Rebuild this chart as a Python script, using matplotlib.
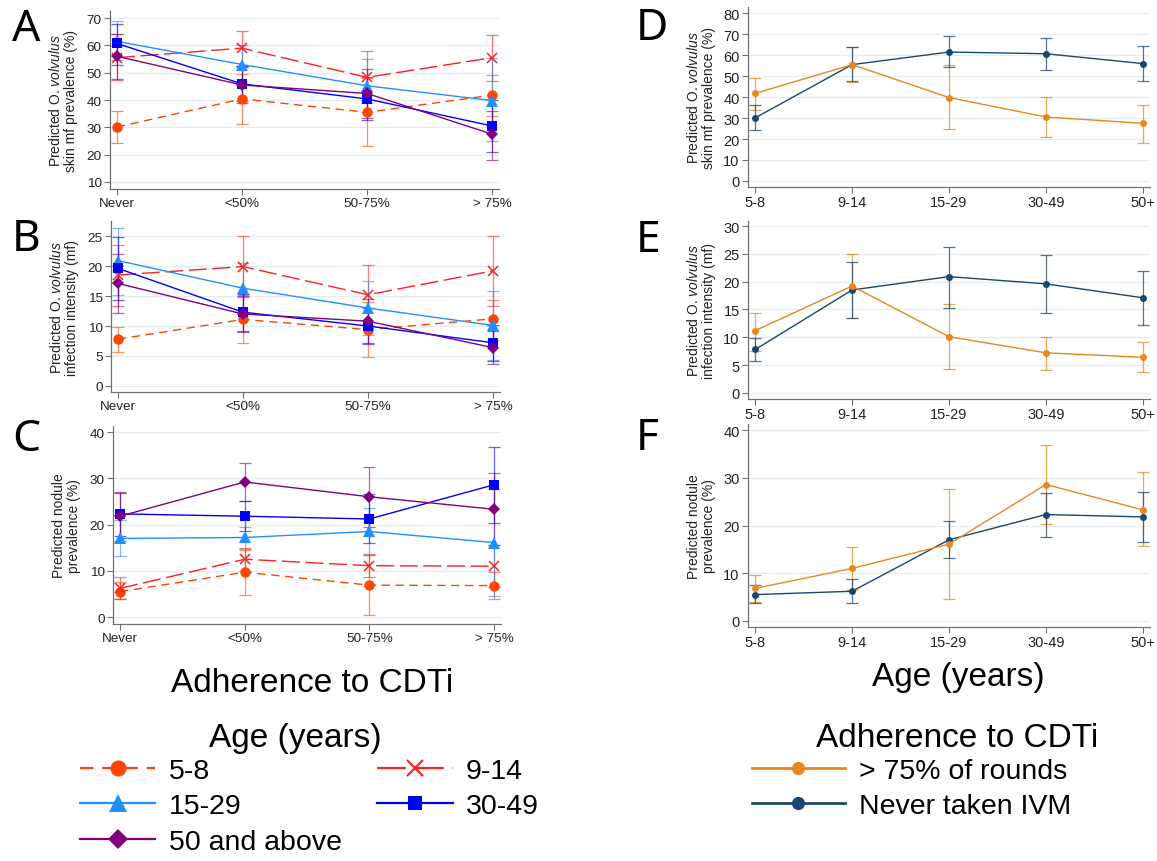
import numpy as np
import matplotlib.pyplot as plt
from matplotlib.lines import Line2D

plt.rcParams['font.family'] = ['Liberation Sans', 'DejaVu Sans']
plt.rcParams['mathtext.fontset'] = 'custom'
plt.rcParams['mathtext.rm'] = 'Liberation Sans'
plt.rcParams['mathtext.it'] = 'Liberation Sans:italic'

W, H = 1157, 862

adherence = ['Never', '<50%', '50-75%', '> 75%']
age_groups = ['5-8', '9-14', '15-29', '30-49', '50+']
age_legend = ['5-8', '9-14', '15-29', '30-49', '50 and above']
adh_legend = ['> 75% of rounds', 'Never taken IVM']

# rows = age group, cols = adherence (Never, <50%, 50-75%, >75%)
mf_prev = [[30.1, 40.4, 35.5, 41.8],
           [55.5, 59.0, 48.3, 55.5],
           [61.5, 53.0, 45.2, 39.8],
           [60.7, 45.9, 40.4, 30.5],
           [56.0, 45.5, 42.4, 27.5]]
mf_prev_lo = [[24.1, 31.1, 23.3, 34.0],
              [47.5, 52.5, 39.0, 47.0],
              [54.5, 46.0, 35.5, 25.0],
              [53.0, 39.5, 32.5, 21.0],
              [47.8, 39.0, 33.5, 18.0]]
mf_prev_hi = [[36.1, 49.5, 48.0, 49.3],
              [64.0, 65.4, 57.8, 63.8],
              [69.0, 60.0, 55.0, 55.5],
              [68.0, 52.5, 48.5, 40.0],
              [64.2, 52.0, 51.5, 36.0]]

mf_int = [[7.8, 11.1, 9.4, 11.2],
          [18.5, 19.9, 15.2, 19.2],
          [20.9, 16.3, 13.0, 10.1],
          [19.6, 12.3, 10.0, 7.2],
          [17.1, 12.0, 10.8, 6.4]]
mf_int_lo = [[5.7, 7.2, 4.8, 7.6],
             [13.4, 14.8, 10.2, 13.4],
             [15.2, 12.0, 8.5, 4.3],
             [14.3, 9.2, 7.2, 4.1],
             [12.2, 9.0, 7.0, 3.7]]
mf_int_hi = [[9.9, 15.1, 14.0, 14.4],
             [23.5, 25.0, 20.2, 25.0],
             [26.3, 20.5, 17.5, 15.9],
             [24.8, 15.3, 13.0, 10.1],
             [22.0, 15.0, 14.5, 9.2]]

nod_prev = [[5.5, 9.7, 6.9, 6.8],
            [6.2, 12.5, 11.1, 11.0],
            [17.0, 17.2, 18.5, 16.1],
            [22.3, 21.8, 21.2, 28.6],
            [21.8, 29.2, 26.0, 23.3]]
nod_prev_lo = [[3.8, 4.8, 0.4, 3.9],
               [3.8, 10.0, 8.6, 6.5],
               [13.2, 14.8, 13.5, 4.5],
               [17.6, 18.6, 16.0, 20.4],
               [16.5, 25.0, 19.5, 15.6]]
nod_prev_hi = [[7.5, 14.6, 13.5, 9.7],
               [8.7, 15.0, 13.6, 15.5],
               [21.0, 19.5, 23.5, 27.6],
               [26.8, 25.0, 26.5, 36.8],
               [27.0, 33.3, 32.5, 31.2]]

age_styles = [
    dict(color='#FF4500', ls=(0, (6, 4)), marker='o', ms=7.5, mew=0),
    dict(color='#FF2020', ls=(0, (13, 4)), marker='x', ms=7, mew=1.1),
    dict(color='#1E90FF', ls='-', marker='^', ms=8, mew=0),
    dict(color='#0000FF', ls='-', marker='s', ms=6.5, mew=0),
    dict(color='#800080', ls='-', marker='D', ms=6.5, mew=0),
]
adh_colors = ['#E8871E', '#1A476F']   # >75%, never


def px_rect(x0, y0, x1, y1):
    return [x0 / W, 1 - y1 / H, (x1 - x0) / W, (y1 - y0) / H]


def style_axes(ax, labels, ylim, yticks, ylabel, fs, pad):
    n = len(labels)
    ax.set_xlim(-0.056 * (n - 1) / 3, (n - 1) * (1 + 0.056 / 3))
    ax.set_ylim(*ylim)
    ax.set_xticks(range(n))
    ax.set_xticklabels(labels)
    ax.set_yticks(yticks)
    for s in ['top', 'right']:
        ax.spines[s].set_visible(False)
    for s in ['left', 'bottom']:
        ax.spines[s].set_color('#707070')
        ax.spines[s].set_linewidth(0.9)
    ax.yaxis.grid(True, color='#E4EDF0', lw=0.9)
    ax.set_axisbelow(True)
    ax.tick_params(colors='#707070', labelcolor='#222222', length=4, width=0.8,
                   labelsize=fs, pad=2)
    ax.set_ylabel(ylabel, fontsize=10, color='#222222', labelpad=pad, linespacing=1.1)


yl_mf = 'Predicted O. $\\mathit{volvulus}$\nskin mf prevalence (%)'
yl_int = 'Predicted O. $\\mathit{volvulus}$\ninfection intensity (mf)'
yl_nod = 'Predicted nodule\nprevalence (%)'

fig = plt.figure(figsize=(W / 100, H / 100), dpi=100)

left_panels = [
    (px_rect(110, 12, 499, 190), mf_prev, mf_prev_lo, mf_prev_hi, (7.4, 72.6), range(10, 71, 10), yl_mf, 'A', 30),
    (px_rect(111, 222, 500, 393), mf_int, mf_int_lo, mf_int_hi, (-1.0, 27.5), range(0, 26, 5), yl_int, 'B', 240),
    (px_rect(113, 427, 501, 625), nod_prev, nod_prev_lo, nod_prev_hi, (-1.5, 41.3), range(0, 41, 10), yl_nod, 'C', 440),
]
for rect, vals, lo, hi, ylim, yt, yl, letter, ly in left_panels:
    ax = fig.add_axes(rect)
    x = np.arange(len(adherence))
    for i, st in enumerate(age_styles):
        v = np.array(vals[i])
        err = [v - np.array(lo[i]), np.array(hi[i]) - v]
        ax.errorbar(x, v, yerr=err, fmt='none', ecolor=st['color'], alpha=0.6,
                    elinewidth=0.9, capsize=4, capthick=0.9, zorder=2)
    for i, st in enumerate(age_styles):
        ax.plot(x, vals[i], color=st['color'], ls=st['ls'], lw=1.0, marker=st['marker'],
                ms=st['ms'], mew=st['mew'], mec=st['color'], zorder=3)
    style_axes(ax, adherence, ylim, yt, yl, 9.7, 6)
    fig.text(12 / W, 1 - ly / H, letter, fontsize=32, family='Noto Sans', va='center', ha='left')

right_panels = [
    (px_rect(748, 8, 1150, 188), mf_prev, mf_prev_lo, mf_prev_hi, (-2.9, 83), range(0, 81, 10), yl_mf, 'D', 29),
    (px_rect(748, 222, 1150, 400), mf_int, mf_int_lo, mf_int_hi, (-1.1, 30.9), range(0, 31, 5), yl_int, 'E', 241),
    (px_rect(748, 425, 1150, 628), nod_prev, nod_prev_lo, nod_prev_hi, (-1.3, 41.3), range(0, 41, 10), yl_nod, 'F', 439),
]
for rect, vals, lo, hi, ylim, yt, yl, letter, ly in right_panels:
    ax = fig.add_axes(rect)
    x = np.arange(len(age_groups))
    # column 3 = >75% of rounds, column 0 = never taken IVM
    for col, c in zip([3, 0], adh_colors):
        v = np.array([r[col] for r in vals])
        l = np.array([r[col] for r in lo])
        h = np.array([r[col] for r in hi])
        ax.errorbar(x, v, yerr=[v - l, h - v], fmt='none', ecolor=c, alpha=0.75,
                    elinewidth=0.9, capsize=4.5, capthick=0.9, zorder=2)
    for col, c in zip([0, 3], adh_colors[::-1]):
        v = [r[col] for r in vals]
        ax.plot(x, v, color=c, lw=1.0, marker='o', ms=5, mew=0, zorder=3)
    style_axes(ax, age_groups, ylim, yt, yl, 10.5, 5)
    fig.text(636 / W, 1 - ly / H, letter, fontsize=32, family='Noto Sans', va='center', ha='left')

# axis titles
fig.text(312 / W, 1 - 692 / H, 'Adherence to CDTi', fontsize=24, ha='center', va='baseline')
fig.text(958 / W, 1 - 686 / H, 'Age (years)', fontsize=24, ha='center', va='baseline')

# legend for left column
fig.text(295 / W, 1 - 747 / H, 'Age (years)', fontsize=24, ha='center', va='baseline')
handles = []
for st in age_styles:
    ms = st['ms'] * 1.55
    handles.append(Line2D([], [], color=st['color'], ls=st['ls'], lw=1.6, marker=st['marker'],
                          ms=ms, mew=st['mew'] * 1.4, mec=st['color']))
order = [0, 2, 4, 1, 3]
fig.legend([handles[i] for i in order], [age_legend[i] for i in order],
           loc='upper left', bbox_to_anchor=(80 / W, 1 - 759 / H), ncol=2, frameon=False,
           fontsize=20.5, handlelength=2.65, handletextpad=0.46, columnspacing=1.25,
           labelspacing=0.33, borderpad=0, borderaxespad=0)

# legend for right column
fig.text(957 / W, 1 - 747 / H, 'Adherence to CDTi', fontsize=24, ha='center', va='baseline')
rh = [Line2D([], [], color=c, lw=2.0, marker='o', ms=9.5, mew=0) for c in adh_colors]
fig.legend(rh, adh_legend, loc='upper left', bbox_to_anchor=(752 / W, 1 - 759 / H),
           frameon=False, fontsize=20.5, handlelength=3.25, handletextpad=0.5,
           labelspacing=0.33, borderpad=0, borderaxespad=0)

fig.savefig('out.png', dpi=100)
